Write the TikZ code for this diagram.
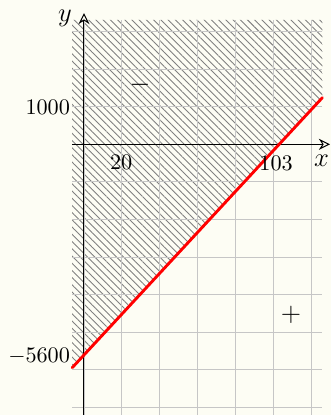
\documentclass[tikz,border=0pt]{standalone}
\usetikzlibrary{arrows.meta,patterns.meta}
\definecolor{paper}{RGB}{253,253,244}
\definecolor{gridgray}{RGB}{198,198,198}
\begin{document}
\begin{tikzpicture}[x=0.6cm,y=0.5953cm,>={Stealth[open,length=5pt,width=5pt]},
  gridline/.style={gridgray,line width=0.5pt,xstep=0.6cm,ystep=0.5953cm},
  hatch/.style={pattern={Lines[angle=-45,distance=2.3pt,line width=0.4pt]},pattern color=gray},
  axis/.style={->,line width=0.45pt},
  boundary/.style={red,line width=1.3pt,line cap=round},
  tick/.style={inner sep=1pt}]
                \fill[paper] (-2.216,-7.199) rectangle (6.517,3.838);
                \useasboundingbox (-2.216,-7.199) rectangle (6.517,3.838);
                % shaded half plane
                \fill[hatch] (-0.31,3.31) -- (6.29,3.31) -- (6.29,1.24) -- (-0.31,-5.94) -- cycle;
                \draw[gridline] (-0.31,-7.3) grid (6.29,3.31);
                \coordinate (xstart) at (-0.31,0);
                \coordinate (xend) at (6.49,0);
                \coordinate (ystart) at (0,-7.3);
                \coordinate (yend) at (0,3.49);
                \draw[axis] (xstart) -- (xend);
                \draw[axis] (ystart) -- (yend);
                \coordinate (lstart) at (-0.31,-5.94);
                \coordinate (lend) at (6.29,1.24);
                \draw[boundary] (lstart) -- (lend);
                \node (ylab) at (-0.5,3.36) {\large$y$};
                \node (xlab) at (6.27,-0.43) {\large$x$};
                \node[tick,anchor=east] (y1000) at (-0.3,0.99) {1000};
                \node[tick,anchor=east] (y5600) at (-0.3,-5.65) {$-5600$};
                \node (x20) at (0.98,-0.47) {20};
                \node (x103) at (5.07,-0.5) {103};
                \node (minus) at (1.48,1.58) {\large$-$};
                \node (plus) at (5.46,-4.54) {\large$+$};
            \end{tikzpicture}
\end{document}
